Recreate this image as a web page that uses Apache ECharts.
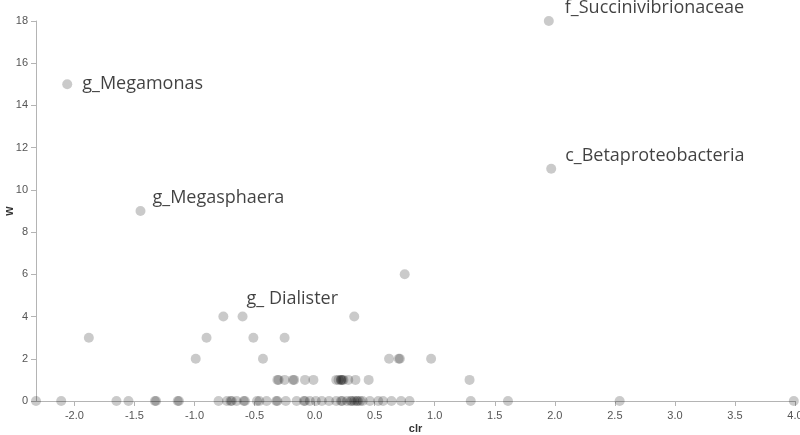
<!DOCTYPE html>
<html>
<head>
<meta charset="utf-8">
<script src="https://cdn.jsdelivr.net/npm/echarts@6/dist/echarts.min.js"></script>
<style>
html,body{margin:0;padding:0;background:#fff;}
#chart{width:800px;height:435px;}
</style>
</head>
<body>
<div id="chart"></div>
<script>
// clr values of unlabeled points, grouped by their w value
const clrAtW0 = [-2.32, -2.11, -1.65, -1.55, -1.33, -1.32, -1.14, -1.13, -0.80, -0.73, -0.70, -0.69, -0.65, -0.59, -0.58, -0.48, -0.46, -0.40, -0.32, -0.31, -0.24, -0.15, -0.09, -0.08, -0.04, 0.01, 0.06, 0.12, 0.18, 0.22, 0.23, 0.27, 0.30, 0.31, 0.33, 0.35, 0.36, 0.38, 0.40, 0.46, 0.53, 0.57, 0.64, 0.72, 0.79, 1.30, 1.61, 2.54, 3.99];
const clrAtW1 = [-0.31, -0.30, -0.25, -0.18, -0.17, -0.08, -0.01, 0.18, 0.20, 0.22, 0.22, 0.23, 0.24, 0.28, 0.34, 0.45, 1.29];
const clrAtW2 = [-0.99, -0.43, 0.62, 0.70, 0.71, 0.97];
const clrAtW3 = [-1.88, -0.90, -0.51, -0.25];
const clrAtW4 = [-0.76, 0.33];
const clrAtW6 = [0.75];

// labeled taxa
const labelNames = ['g_Megamonas', 'g_Megasphaera', 'g_ Dialister', 'f_Succinivibrionaceae', 'c_Betaproteobacteria'];
const labelClr = [-2.06, -1.45, -0.60, 1.95, 1.97];
const labelW = [15, 9, 4, 18, 11];

// axis ticks
const xTicks = [-2.0, -1.5, -1.0, -0.5, 0.0, 0.5, 1.0, 1.5, 2.0, 2.5, 3.0, 3.5, 4.0];
const yTicks = [0, 2, 4, 6, 8, 10, 12, 14, 16, 18];

// label offsets (style, not data)
const labelOffsets = {
  'g_Megamonas': [10, 0],
  'g_Megasphaera': [7, -13],
  'g_ Dialister': [-1, -18],
  'f_Succinivibrionaceae': [11, -13],
  'c_Betaproteobacteria': [9, -13]
};

const plain = [];
[[0, clrAtW0], [1, clrAtW1], [2, clrAtW2], [3, clrAtW3], [4, clrAtW4], [6, clrAtW6]].forEach(([wv, arr]) => {
  arr.forEach(c => plain.push([c, wv]));
});

const labeled = labelNames.map((n, i) => ({
  name: n,
  value: [labelClr[i], labelW[i]],
  label: {
    show: true,
    position: 'right',
    formatter: n,
    offset: labelOffsets[n],
    distance: 0,
    color: '#111',
    fontSize: 18,
    fontFamily: 'Open Sans'
  }
}));

const pointStyle = { color: 'rgba(0,0,0,0.26)' };
const axisGrey = '#b4b4b4';
const labelGrey = '#555';

const chart = echarts.init(document.getElementById('chart'), null, { renderer: 'canvas' });
chart.setOption({
  animation: false,
  backgroundColor: '#fff',
  grid: { left: 36, right: 5, top: 21, bottom: 34, containLabel: false, outerBoundsMode: 'none' },
  xAxis: {
    type: 'value',
    min: -2.32,
    max: 4.0,
    name: 'clr',
    nameLocation: 'middle',
    nameGap: 22,
    nameMoveOverlap: false,
    nameTextStyle: { fontWeight: 'bold', fontSize: 11, color: '#333', fontFamily: 'Liberation Sans' },
    splitLine: { show: false },
    axisLine: { show: true, onZero: false, lineStyle: { color: axisGrey } },
    axisTick: { show: true, length: 5, lineStyle: { color: axisGrey }, customValues: xTicks },
    axisLabel: {
      customValues: xTicks,
      formatter: v => v.toFixed(1),
      color: labelGrey, fontSize: 11, fontFamily: 'Liberation Sans', margin: 9
    }
  },
  yAxis: {
    type: 'value',
    min: 0,
    max: 18,
    interval: 2,
    name: 'w',
    nameLocation: 'middle',
    nameGap: 20,
    nameMoveOverlap: false,
    nameTextStyle: { fontWeight: 'bold', fontSize: 12, color: '#333', fontFamily: 'Liberation Sans' },
    splitLine: { show: false },
    axisLine: { show: true, onZero: false, lineStyle: { color: axisGrey } },
    axisTick: { show: true, length: 5, lineStyle: { color: axisGrey }, customValues: yTicks },
    axisLabel: {
      customValues: yTicks,
      color: labelGrey, fontSize: 11, fontFamily: 'Liberation Sans', margin: 8
    }
  },
  series: [
    {
      type: 'scatter',
      symbolSize: 10,
      itemStyle: pointStyle,
      data: plain,
      emphasis: { disabled: true }
    },
    {
      type: 'scatter',
      symbolSize: 10,
      itemStyle: pointStyle,
      data: labeled,
      emphasis: { disabled: true }
    }
  ]
});
</script>
</body>
</html>
